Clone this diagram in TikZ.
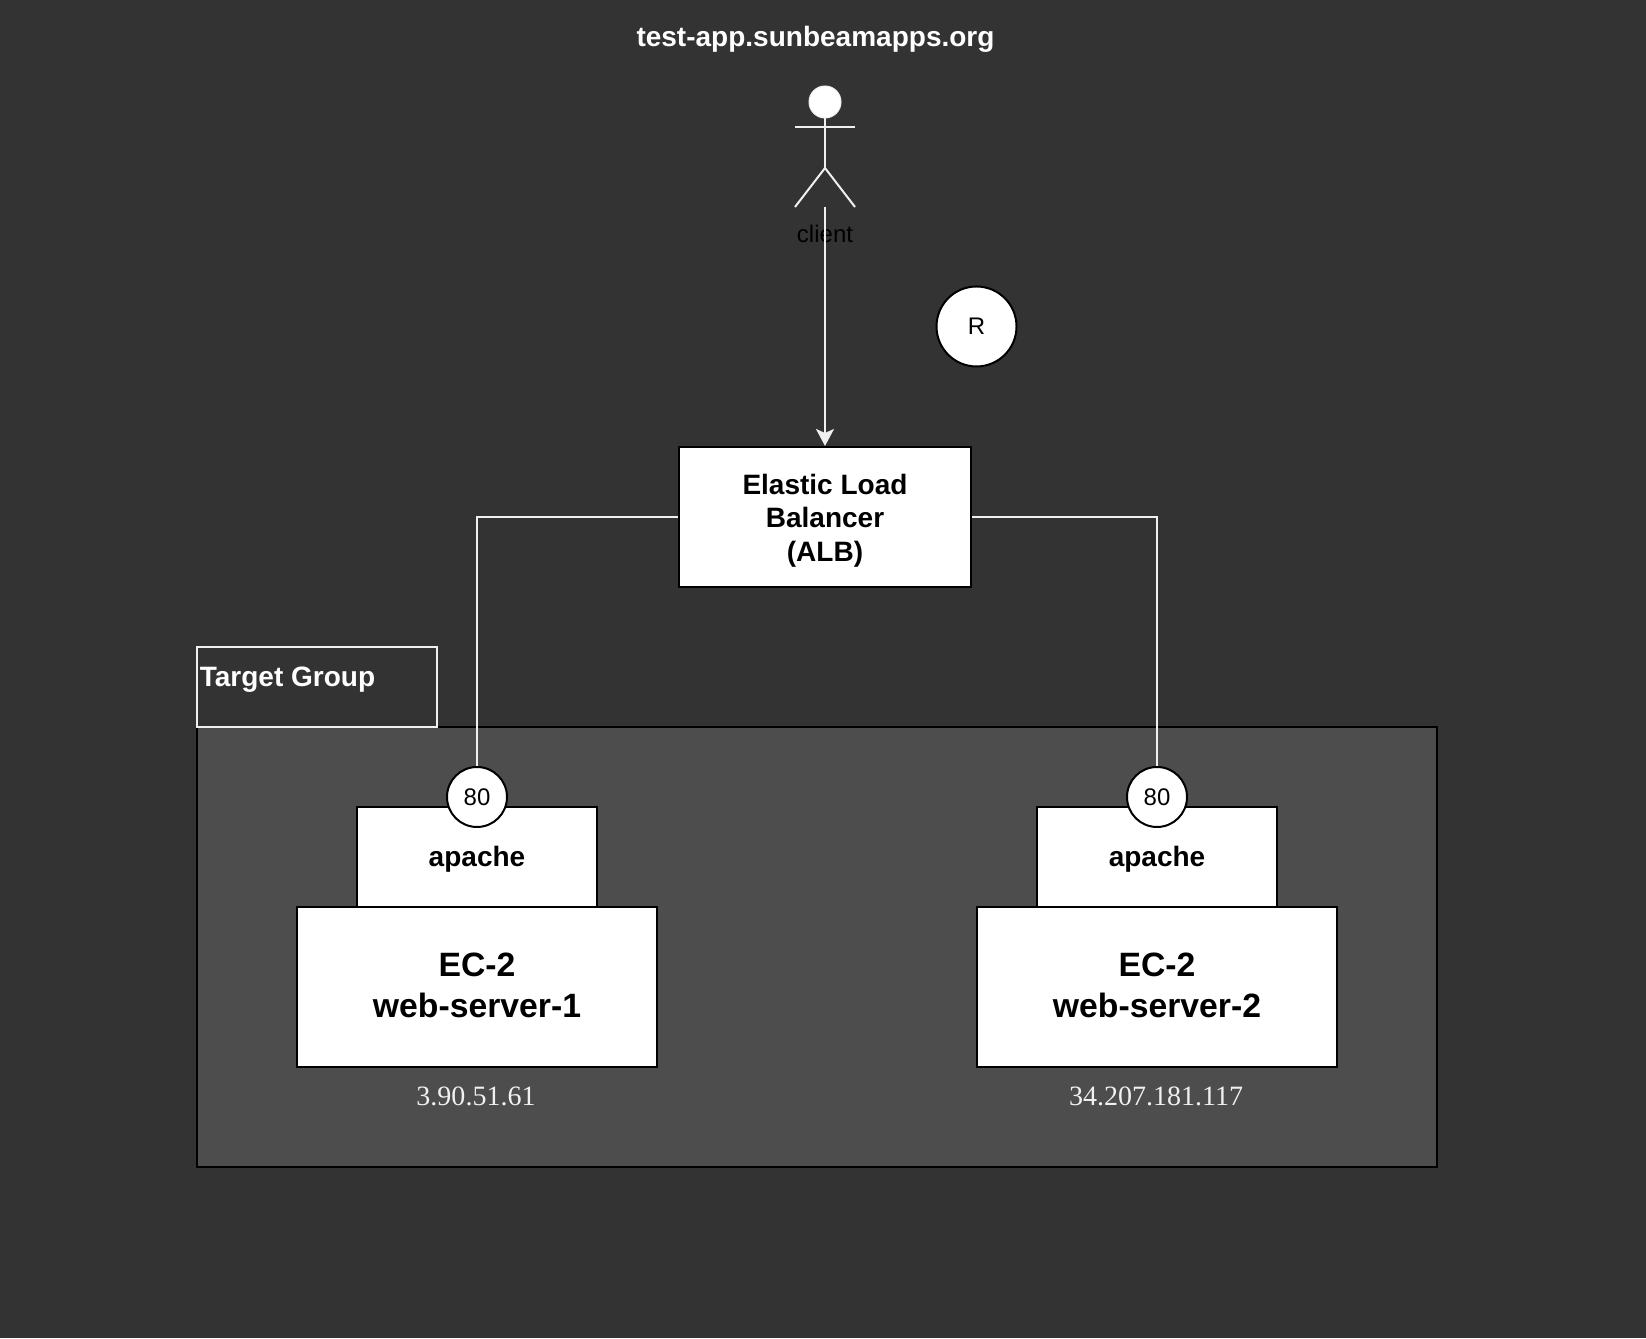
\documentclass[tikz,border=0pt]{standalone}
\usepackage{xcolor}
\usepackage{fontspec}
\setmainfont{Liberation Serif}
\setsansfont{Liberation Sans}
\usetikzlibrary{arrows.meta}
\definecolor{cBack}{HTML}{333333}
\definecolor{cGroup}{HTML}{4D4D4D}
\definecolor{cLine}{HTML}{F0F0F0}

\begin{document}
\begin{tikzpicture}[
  every node/.style={font=\sffamily},
  box/.style={draw=black, fill=white, line width=0.04cm, align=center, inner sep=0pt, text=black, font=\sffamily\bfseries\fontsize{15.94}{19.1}\selectfont},
  server/.style={box, minimum width=7.2cm, minimum height=3.2cm, font=\sffamily\bfseries\fontsize{19.2}{23.2}\selectfont, execute at end node={\rule[-1.8pt]{0pt}{1.8pt}}},
  webapp/.style={box, minimum width=4.8cm, minimum height=2cm, execute at begin node={\rule{0pt}{14pt}}},
  badge/.style={draw=black, fill=white, line width=0.04cm, circle, inner sep=0pt, text=black, font=\sffamily\fontsize{13.66}{16.4}\selectfont},
  wire/.style={draw=cLine, line width=0.04cm},
  ipaddr/.style={text=cLine, inner sep=0pt, font=\rmfamily\fontsize{15.94}{19.1}\selectfont},
]

\useasboundingbox (0,0) rectangle (32.92,26.76);
\fill[cBack] (0,0) rectangle (32.92,26.76);
\node[font=\sffamily\bfseries\fontsize{15.94}{19.1}\selectfont, text=white, inner sep=0pt] (title) at (16.31,25.98) {test-app.sunbeamapps.org};

% client
\node[circle, draw=cLine, fill=white, line width=0.02cm, minimum size=0.64cm, inner sep=0pt] (head) at (16.5,24.72) {};
\coordinate (hip) at (16.5,23.4);
\coordinate (foot) at (16.5,22.62);
\draw[wire] (head.south) -- (hip);
\draw[wire] (15.9,24.22) -- (17.1,24.22);
\draw[wire] (15.9,22.62) -- (hip) -- (17.1,22.62);
\node[text=black, inner sep=0pt, font=\sffamily\fontsize{13.66}{16.4}\selectfont] (client) at (16.5,22.08) {client};
\node[badge, minimum size=1.6cm] (region) at (19.53,20.23) {R};

% load balancer
\node[box, minimum width=5.84cm, minimum height=2.8cm, execute at begin node={\rule{0pt}{53.6pt}}] (alb) at (16.5,16.42) {Elastic Load\\Balancer\\(ALB)};
\draw[wire, -{Stealth[length=0.34cm, width=0.36cm, inset=0.08cm]}] (foot) -- (alb.north);

% target group
\node[draw=black, fill=cGroup, line width=0.04cm, minimum width=24.8cm, minimum height=8.78cm, inner sep=0pt] (group) at (16.34,7.82) {};
\node[draw=cLine, line width=0.04cm, minimum width=4.8cm, minimum height=1.6cm, inner sep=0pt] (grouptag) at (6.34,13.01) {};
\node[anchor=west, text=white, inner sep=0pt, font=\sffamily\bfseries\fontsize{15.94}{19.1}\selectfont] (grouptext) at (3.99,13.157) {Target Group};

\node[webapp] (apacheA) at (9.54,9.62) {apache};
\node[server] (serverA) at (9.54,7.02) {EC-2\\web-server-1};
\node[badge, minimum size=1.2cm] (portA) at (9.54,10.82) {80};
\node[ipaddr] (ipA) at (9.52,4.84) {3.90.51.61};

\node[webapp] (apacheB) at (23.14,9.62) {apache};
\node[server] (serverB) at (23.14,7.02) {EC-2\\web-server-2};
\node[badge, minimum size=1.2cm] (portB) at (23.14,10.82) {80};
\node[ipaddr] (ipB) at (23.12,4.84) {34.207.181.117};

\draw[wire] (alb.west) -| (portA.north);
\draw[wire] (alb.east) -| (portB.north);

\end{tikzpicture}
\end{document}
